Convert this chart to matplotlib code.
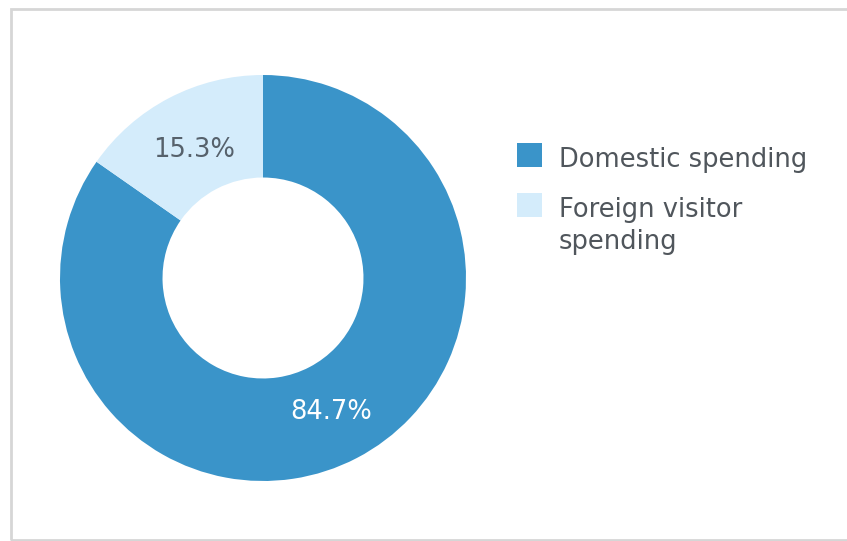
import matplotlib
matplotlib.use("Agg")
import matplotlib.pyplot as plt
from matplotlib.patches import Rectangle

labels = ["Domestic spending", "Foreign visitor\nspending"]
shares = [84.7, 15.3]
colors = ["#3a94c9", "#d4ecfb"]
pct_colors = ["white", "#56616b"]

W, H = 847, 541
fig = plt.figure(figsize=(W / 100, H / 100), dpi=100)
plt.rcParams["font.family"] = ["DejaVu Sans"]

# card outline, right side runs off the image
fig.add_artist(Rectangle((11 / W, 1 - 540 / H), 2, (540 - 9) / H,
                         transform=fig.transFigure, fill=False,
                         edgecolor="#d6d6d6", linewidth=2))

ax = fig.add_axes([60 / W, 60 / H, 406 / W, 406 / H])
wedges, texts, autotexts = ax.pie(
    shares, colors=colors, startangle=90, counterclock=False,
    autopct="%.1f%%", pctdistance=0.73,
    wedgeprops=dict(width=0.505, linewidth=0),
    textprops=dict(fontsize=18.5))
for t, c in zip(autotexts, pct_colors):
    t.set_color(c)
    t.set_va("center_baseline")
ax.set_xlim(-1, 1)
ax.set_ylim(-1, 1)
ax.set_aspect("equal")
ax.axis("off")

# legend drawn by hand, one text per line so baselines stay fixed
y_tops = [143, 193]
line_step = 32
for lab, col, yt in zip(labels, colors, y_tops):
    fig.add_artist(Rectangle((517 / W, 1 - (yt + 24) / H), 25 / W, 24 / H,
                             transform=fig.transFigure, facecolor=col,
                             edgecolor="none"))
    for i, line in enumerate(lab.split("\n")):
        base = yt + 24 + i * line_step
        fig.text(559 / W, 1 - base / H, line, fontsize=18.5, color="#50565c",
                 va="baseline", ha="left")

fig.savefig("out.png", dpi=100, facecolor="white")
